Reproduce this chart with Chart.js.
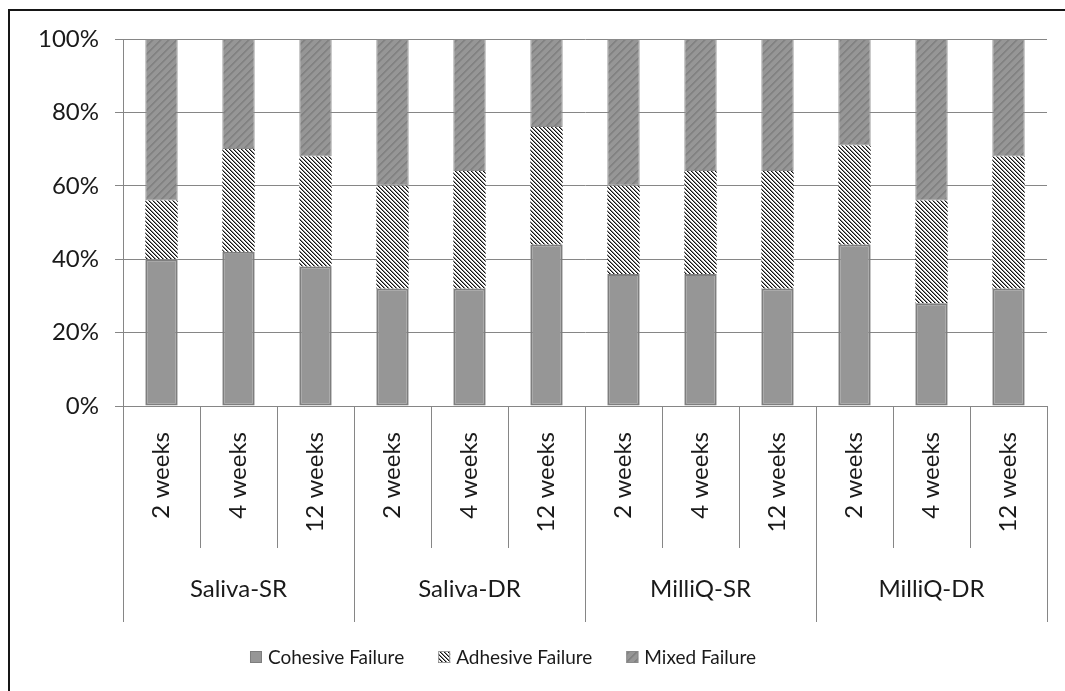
<!DOCTYPE html>
<html>
<head>
<meta charset="utf-8">
<script src="https://cdn.jsdelivr.net/npm/chart.js@4.4.1/dist/chart.umd.min.js"></script>
<style>
  html, body { margin: 0; padding: 0; background: #fff; }
  #wrap { width: 1065px; height: 691px; position: relative; }
</style>
</head>
<body>
<div id="wrap"><canvas id="chart" width="1065" height="691"></canvas></div>
<script>
// Storage conditions and ageing periods
const groups = ['Saliva-SR', 'Saliva-DR', 'MilliQ-SR', 'MilliQ-DR'];
const periods = ['2 weeks', '4 weeks', '12 weeks'];

// Failure mode shares (%) per bar, in group order
const cohesive = [40, 42, 38, 32, 32, 44, 36, 36, 32, 44, 28, 32];
const adhesive = [16, 28, 30, 28, 32, 32, 24, 28, 32, 27, 28, 36];
const mixed    = [44, 30, 32, 40, 36, 24, 40, 36, 36, 29, 44, 32];

const yTicks = [0, 20, 40, 60, 80, 100];

const labels = groups.flatMap(() => periods);

const FONT = 'Lato';
const TEXT = '#1a1a1a';
const LINE = '#868686';

// Fill patterns
function makeTile(size, draw) {
  const c = document.createElement('canvas');
  c.width = size; c.height = size;
  const g = c.getContext('2d');
  draw(g, size);
  return g.createPattern(c, 'repeat');
}
const ctx = document.getElementById('chart').getContext('2d');

// black downward diagonals on white
const adhesivePattern = makeTile(4, (g, n) => {
  g.fillStyle = '#ffffff';
  g.fillRect(0, 0, n, n);
  g.fillStyle = '#111111';
  for (let i = 0; i < n; i++) g.fillRect(i, i, 1, 1);
  g.fillStyle = '#8a8a8a';
  for (let i = 0; i < n; i++) g.fillRect((i + 1) % n, i, 1, 1);
});

// darker upward diagonals on grey
const mixedPattern = makeTile(8, (g, n) => {
  g.fillStyle = '#969696';
  g.fillRect(0, 0, n, n);
  for (let i = 0; i < n; i++) {
    g.fillStyle = '#828282';
    g.fillRect((n - 1 - i + n) % n, i, 1, 1);
    g.fillRect((n - i) % n, i, 1, 1);
    g.fillStyle = '#8c8c8c';
    g.fillRect((n + 1 - i) % n, i, 1, 1);
  }
});

const frame = {
  id: 'frame',
  beforeDraw(chart) {
    const c = chart.ctx;
    c.save();
    c.fillStyle = '#fff';
    c.fillRect(0, 0, chart.width, chart.height);
    c.fillStyle = '#161616';
    c.fillRect(8, 9, chart.width, 2);
    c.fillRect(8, 9, 2, chart.height);
    c.restore();
  }
};

// Two-level category axis: periods (rotated) and condition groups
const groupedAxis = {
  id: 'groupedAxis',
  afterDraw(chart) {
    const c = chart.ctx;
    const x = chart.scales.x;
    const base = chart.scales.y.getPixelForValue(0);
    const n = labels.length;
    const step = x.getPixelForValue(1) - x.getPixelForValue(0);
    const edge = i => x.getPixelForValue(i) - step / 2;
    c.save();
    c.strokeStyle = LINE;
    c.lineWidth = 1;
    for (let i = 0; i <= n; i++) {
      const px = Math.round(edge(i)) + 0.5;
      const isGroup = i % periods.length === 0;
      c.beginPath();
      c.moveTo(px, base);
      c.lineTo(px, isGroup ? 622 : 548);
      c.stroke();
    }
    c.fillStyle = TEXT;
    c.font = `24px ${FONT}`;
    for (let i = 0; i < n; i++) {
      c.save();
      c.translate(x.getPixelForValue(i), 432);
      c.rotate(-Math.PI / 2);
      c.textAlign = 'right';
      c.textBaseline = 'middle';
      c.fillText(labels[i], 0, 0);
      c.restore();
    }
    c.textAlign = 'center';
    c.textBaseline = 'middle';
    groups.forEach((g, k) => {
      const mid = (edge(k * periods.length) + edge((k + 1) * periods.length)) / 2;
      c.fillText(g, mid, 589);
    });
    c.restore();
  }
};

const legendBox = {
  id: 'legendBox',
  afterDraw(chart) {
    const c = chart.ctx;
    c.save();
    c.font = `19px ${FONT}`;
    c.textBaseline = 'middle';
    c.textAlign = 'left';
    const box = 12, gap = 6, spacing = 34, cy = 657;
    const items = chart.data.datasets.map(ds => ({
      ds, w: box + gap + c.measureText(ds.label).width
    }));
    const total = items.reduce((s, it) => s + it.w, 0) + spacing * (items.length - 1);
    let px = 503 - total / 2;
    items.forEach(({ ds, w }) => {
      c.fillStyle = ds.backgroundColor;
      c.fillRect(px, cy - box / 2, box, box);
      c.strokeStyle = ds.legendBorder;
      c.lineWidth = 1;
      c.strokeRect(px + 0.5, cy - box / 2 + 0.5, box - 1, box - 1);
      c.fillStyle = TEXT;
      c.fillText(ds.label, px + box + gap, cy + 1);
      px += w + spacing;
    });
    c.restore();
  }
};

new Chart(ctx, {
  type: 'bar',
  data: {
    labels,
    datasets: [
      { label: 'Cohesive Failure', data: cohesive, backgroundColor: '#969696',
        borderColor: '#7e7e7e', borderWidth: 2, legendBorder: '#7e7e7e' },
      { label: 'Adhesive Failure', data: adhesive, backgroundColor: adhesivePattern,
        borderWidth: 0, legendBorder: '#9a9a9a' },
      { label: 'Mixed Failure', data: mixed, backgroundColor: mixedPattern,
        borderColor: '#8a8a8a', borderWidth: 1, legendBorder: '#8a8a8a' }
    ]
  },
  options: {
    responsive: false,
    animation: false,
    layout: { padding: { left: 0, top: 39, right: 18, bottom: 0 } },
    datasets: {
      bar: { barPercentage: 0.42, categoryPercentage: 1, borderSkipped: false }
    },
    plugins: {
      legend: { display: false },
      tooltip: { enabled: false }
    },
    scales: {
      x: {
        stacked: true,
        ticks: { display: false },
        grid: { display: false },
        border: { display: false },
        afterFit: s => { s.height = 285; }
      },
      y: {
        stacked: true,
        min: 0,
        max: 100,
        afterBuildTicks: s => { s.ticks = yTicks.map(v => ({ value: v })); },
        ticks: {
          padding: 16,
          color: TEXT,
          font: { family: FONT, size: 24 },
          callback: v => v + '%'
        },
        grid: { color: LINE, lineWidth: 1, tickLength: 8 },
        border: { display: true, color: LINE, width: 1 },
        afterFit: s => { s.width = 123; }
      }
    }
  },
  plugins: [frame, groupedAxis, legendBox]
});
</script>
</body>
</html>
